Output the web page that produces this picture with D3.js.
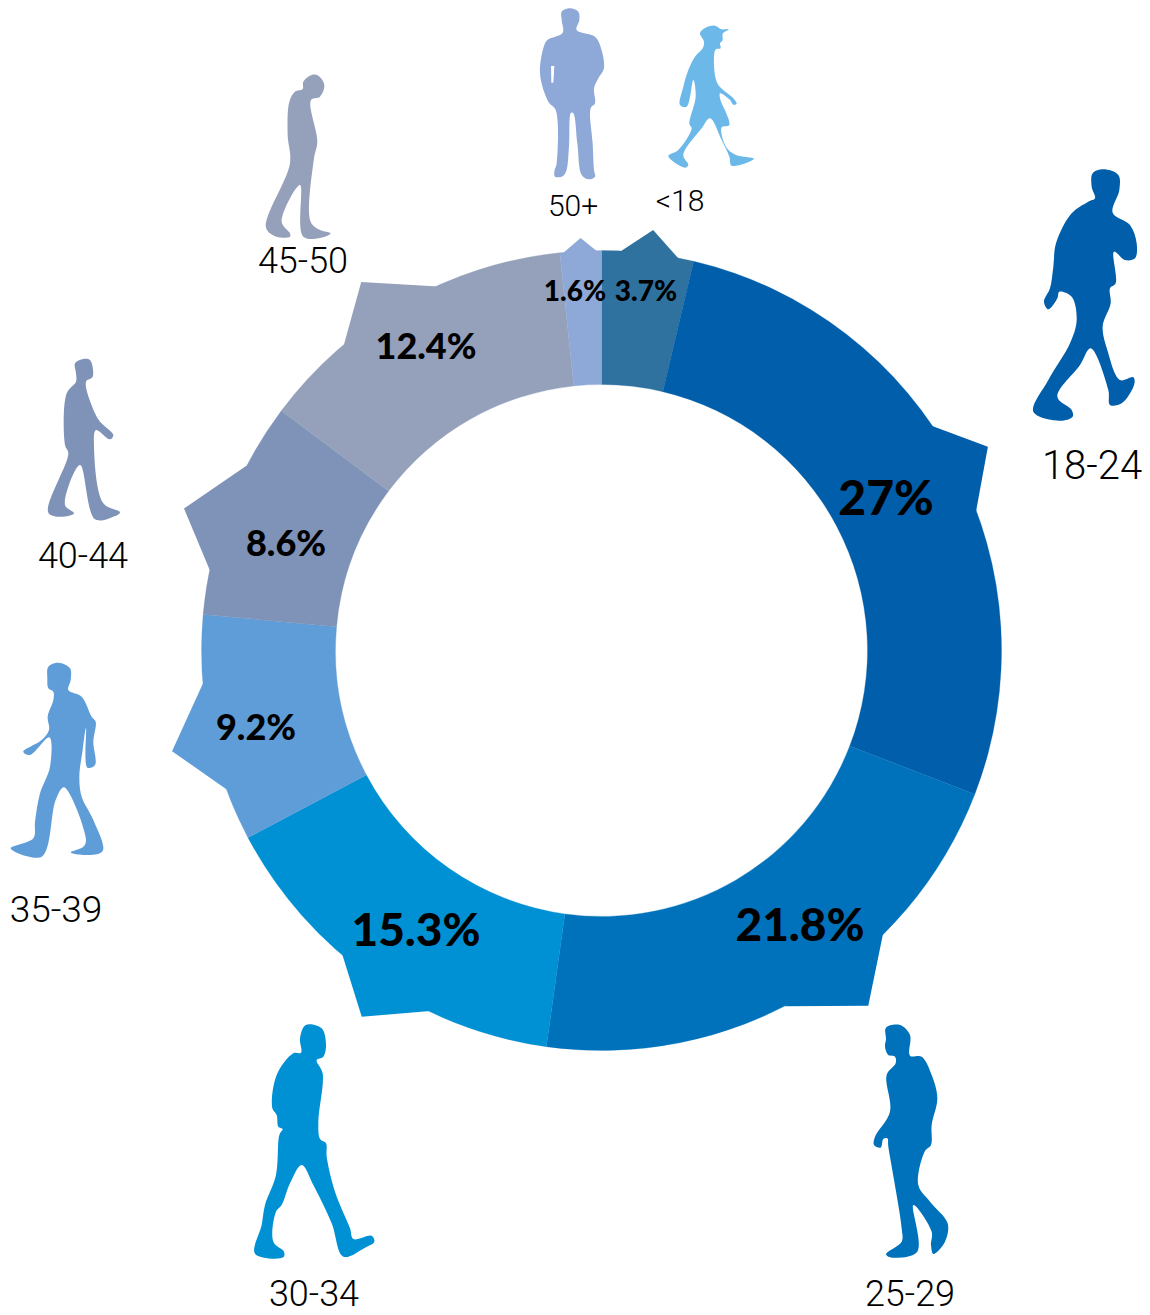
<!DOCTYPE html>
<html><head><meta charset="utf-8">
<script src="https://cdn.jsdelivr.net/npm/d3@7"></script>
<style>html,body{margin:0;padding:0;background:#fff}svg{display:block}
.age{font-family:Roboto,sans-serif;font-weight:300;fill:#000;text-anchor:middle}
.pct{font-family:Lato,sans-serif;font-weight:900;fill:#000;text-anchor:middle}</style>
</head><body><svg id="c" width="1150" height="1315"></svg>
<script>
const categories = ["<18","18-24","25-29","30-34","35-39","40-44","45-50","50+"];
const valueLabels = ["3.7%","27%","21.8%","15.3%","9.2%","8.6%","12.4%","1.6%"];
// share of the ring each slice actually sweeps in the picture
const sweepShares = [3.7,27.15,21.35,15.05,9.18,8.8,13.11,1.66];
const sliceColors = ["#30729f","#005eab","#0072bc","#0090d4","#5e9dd7","#7f92b7","#95a1bb","#8ea9d8"];
const figureColors = ["#6cb9e9","#005eab","#0072bc","#0090d4","#5e9dd7","#7f92b7","#95a1bb","#8ea9d8"];

// spike of each slice: [clockwise degrees from top, radius]
const spikes = [
 [[2.6,399],[7.0,423.7],[11.2,399]],
 [[55.5,398],[62.2,436.8],[70.0,398]],
 [[135.1,399],[143.1,444.3],[152.8,400]],
 [[205.4,399],[213.2,437.8],[220.8,398]],
 [[249.1,397],[256.8,441.1],[265.5,399]],
 [[281.2,398],[288.8,441],[298.1,398]],
 [[319.3,397],[326.9,440],[335.8,399]],
 [[354.4,399],[357.1,413],[359.4,399]]
];
const pctLayout = [[646,291,28],[886,498,48],[800,925,46],[416,930,46],[256,727,36],[286,543,36],[426,346,36],[575,291,28]];
const ageLayout = [[680,200,30],[1092,465,40],[910,1293,36],[314,1293,36],[56,909,37],[83,555,36],[303,260,36],[573,205,30]];
const figures = [
 [520,0,[[540,100],[555,84],[585,77],[605,88],[626,88],[608,101],[608,120],[600,130],[602,145],[588,148],[583,160],[592,250],[640,295],[650,312],[640,314],[630,300],[600,280],[600,295],[628,375],[605,382],[618,440],[648,465],[702,476],[635,497],[628,470],[605,420],[570,355],[545,385],[490,465],[505,495],[495,503],[445,468],[475,450],[515,385],[508,372],[527,290],[520,240],[500,320],[480,315],[490,260],[505,210],[525,170],[548,145],[552,125]]],
 [1020,160,[[218,40],[250,28],[295,45],[298,90],[278,158],[330,195],[350,250],[345,295],[315,300],[282,275],[287,370],[270,385],[272,430],[248,500],[262,570],[300,660],[340,652],[343,672],[305,730],[270,735],[265,690],[212,565],[180,615],[112,710],[155,750],[158,770],[120,782],[40,755],[85,660],[150,550],[170,480],[155,410],[118,395],[112,415],[85,448],[72,425],[90,385],[100,320],[108,250],[155,160],[205,125],[225,115],[215,80]]],
 [850,1015,[[108,38],[150,30],[180,60],[180,122],[215,125],[245,180],[262,250],[245,330],[243,390],[225,408],[205,510],[240,560],[293,625],[285,680],[250,717],[243,690],[245,650],[190,570],[202,710],[120,727],[108,717],[155,680],[155,640],[115,395],[112,370],[100,372],[92,398],[72,390],[75,365],[120,290],[110,180],[137,145],[135,125],[115,120],[105,95],[108,72]]],
 [240,1015,[[197,30],[245,40],[258,90],[250,125],[230,135],[248,175],[235,320],[240,372],[258,385],[260,425],[285,530],[330,640],[340,672],[395,662],[403,680],[375,698],[310,725],[275,625],[220,510],[185,450],[150,505],[125,570],[108,590],[100,680],[132,710],[130,727],[45,716],[65,630],[75,570],[108,480],[118,360],[128,342],[115,335],[110,300],[97,280],[110,180],[160,115],[183,113],[180,70]]],
 [0,650,[[145,50],[175,38],[210,55],[212,90],[205,120],[245,140],[275,200],[287,215],[280,275],[285,345],[262,353],[258,235],[248,300],[238,380],[245,440],[280,510],[308,603],[250,615],[212,607],[250,590],[258,570],[192,412],[167,450],[125,620],[32,595],[100,565],[105,515],[120,430],[150,350],[148,262],[90,315],[70,305],[125,270],[147,240],[143,200],[160,150],[160,125],[145,115],[142,85]]],
 [20,350,[[165,40],[190,27],[210,30],[218,80],[198,95],[225,190],[240,215],[280,255],[270,268],[228,240],[222,290],[250,460],[300,487],[280,500],[225,508],[180,345],[135,465],[162,490],[130,500],[85,488],[145,310],[135,285],[140,130],[168,95],[168,70]]],
 [240,65,[[190,50],[215,30],[235,32],[253,60],[240,95],[213,105],[232,230],[222,280],[212,470],[240,495],[272,505],[255,515],[190,515],[180,360],[125,470],[150,505],[150,515],[110,515],[78,488],[150,295],[143,210],[148,110],[165,80],[188,72]]],
 [520,0,[[125,35],[150,25],[175,35],[178,60],[170,90],[225,110],[240,135],[252,205],[235,235],[222,265],[225,310],[212,325],[218,430],[222,510],[225,530],[205,538],[185,525],[172,430],[160,340],[153,338],[147,440],[138,515],[125,530],[105,530],[103,515],[110,490],[107,330],[85,305],[60,220],[75,130],[85,118],[128,98],[125,60]]]
];
const pocket = [[93,198],[103,198],[100,248],[94,248]];

const cx = 601.5, cy = 650.5, rIn = 266, rOut = 400;
const svg = d3.select("#c");
const ring = svg.append("g").attr("transform", `translate(${cx},${cy})`);
const pie = d3.pie().sort(null).value(d => d)(sweepShares);
const arc = d3.arc().innerRadius(rIn).outerRadius(rOut);
const deg = d3.scaleLinear().domain([0,360]).range([0,2*Math.PI]);
const spikeLine = d3.lineRadial().angle(d => deg(d[0])).radius(d => d[1]).curve(d3.curveLinearClosed);

ring.selectAll("path.slice").data(pie).join("path").attr("class","slice")
  .attr("d", arc).attr("fill",(d,i)=>sliceColors[i])
  .attr("stroke",(d,i)=>sliceColors[i]).attr("stroke-width",0.3);
ring.selectAll("path.spike").data(spikes).join("path").attr("class","spike")
  .attr("d", spikeLine).attr("fill",(d,i)=>sliceColors[i]);

const outline = d3.line().curve(d3.curveCatmullRomClosed.alpha(0.5));
svg.selectAll("path.figure").data(figures).join("path").attr("class","figure")
  .attr("transform", d => `translate(${d[0]},${d[1]}) scale(${1/3})`)
  .attr("d", d => outline(d[2])).attr("fill",(d,i)=>figureColors[i]);
svg.append("path").attr("transform",`translate(520,0) scale(${1/3})`)
  .attr("d",d3.line().curve(d3.curveLinearClosed)(pocket)).attr("fill","#fff");

svg.selectAll("text.pct").data(valueLabels).join("text").attr("class","pct")
  .attr("x",(d,i)=>pctLayout[i][0]).attr("y",(d,i)=>pctLayout[i][1])
  .attr("font-size",(d,i)=>pctLayout[i][2]).attr("dy","0.35em").text(d=>d);
svg.selectAll("text.age").data(categories).join("text").attr("class","age")
  .attr("x",(d,i)=>ageLayout[i][0]).attr("y",(d,i)=>ageLayout[i][1])
  .attr("font-size",(d,i)=>ageLayout[i][2]).attr("dy","0.35em").text(d=>d);
</script></body></html>
